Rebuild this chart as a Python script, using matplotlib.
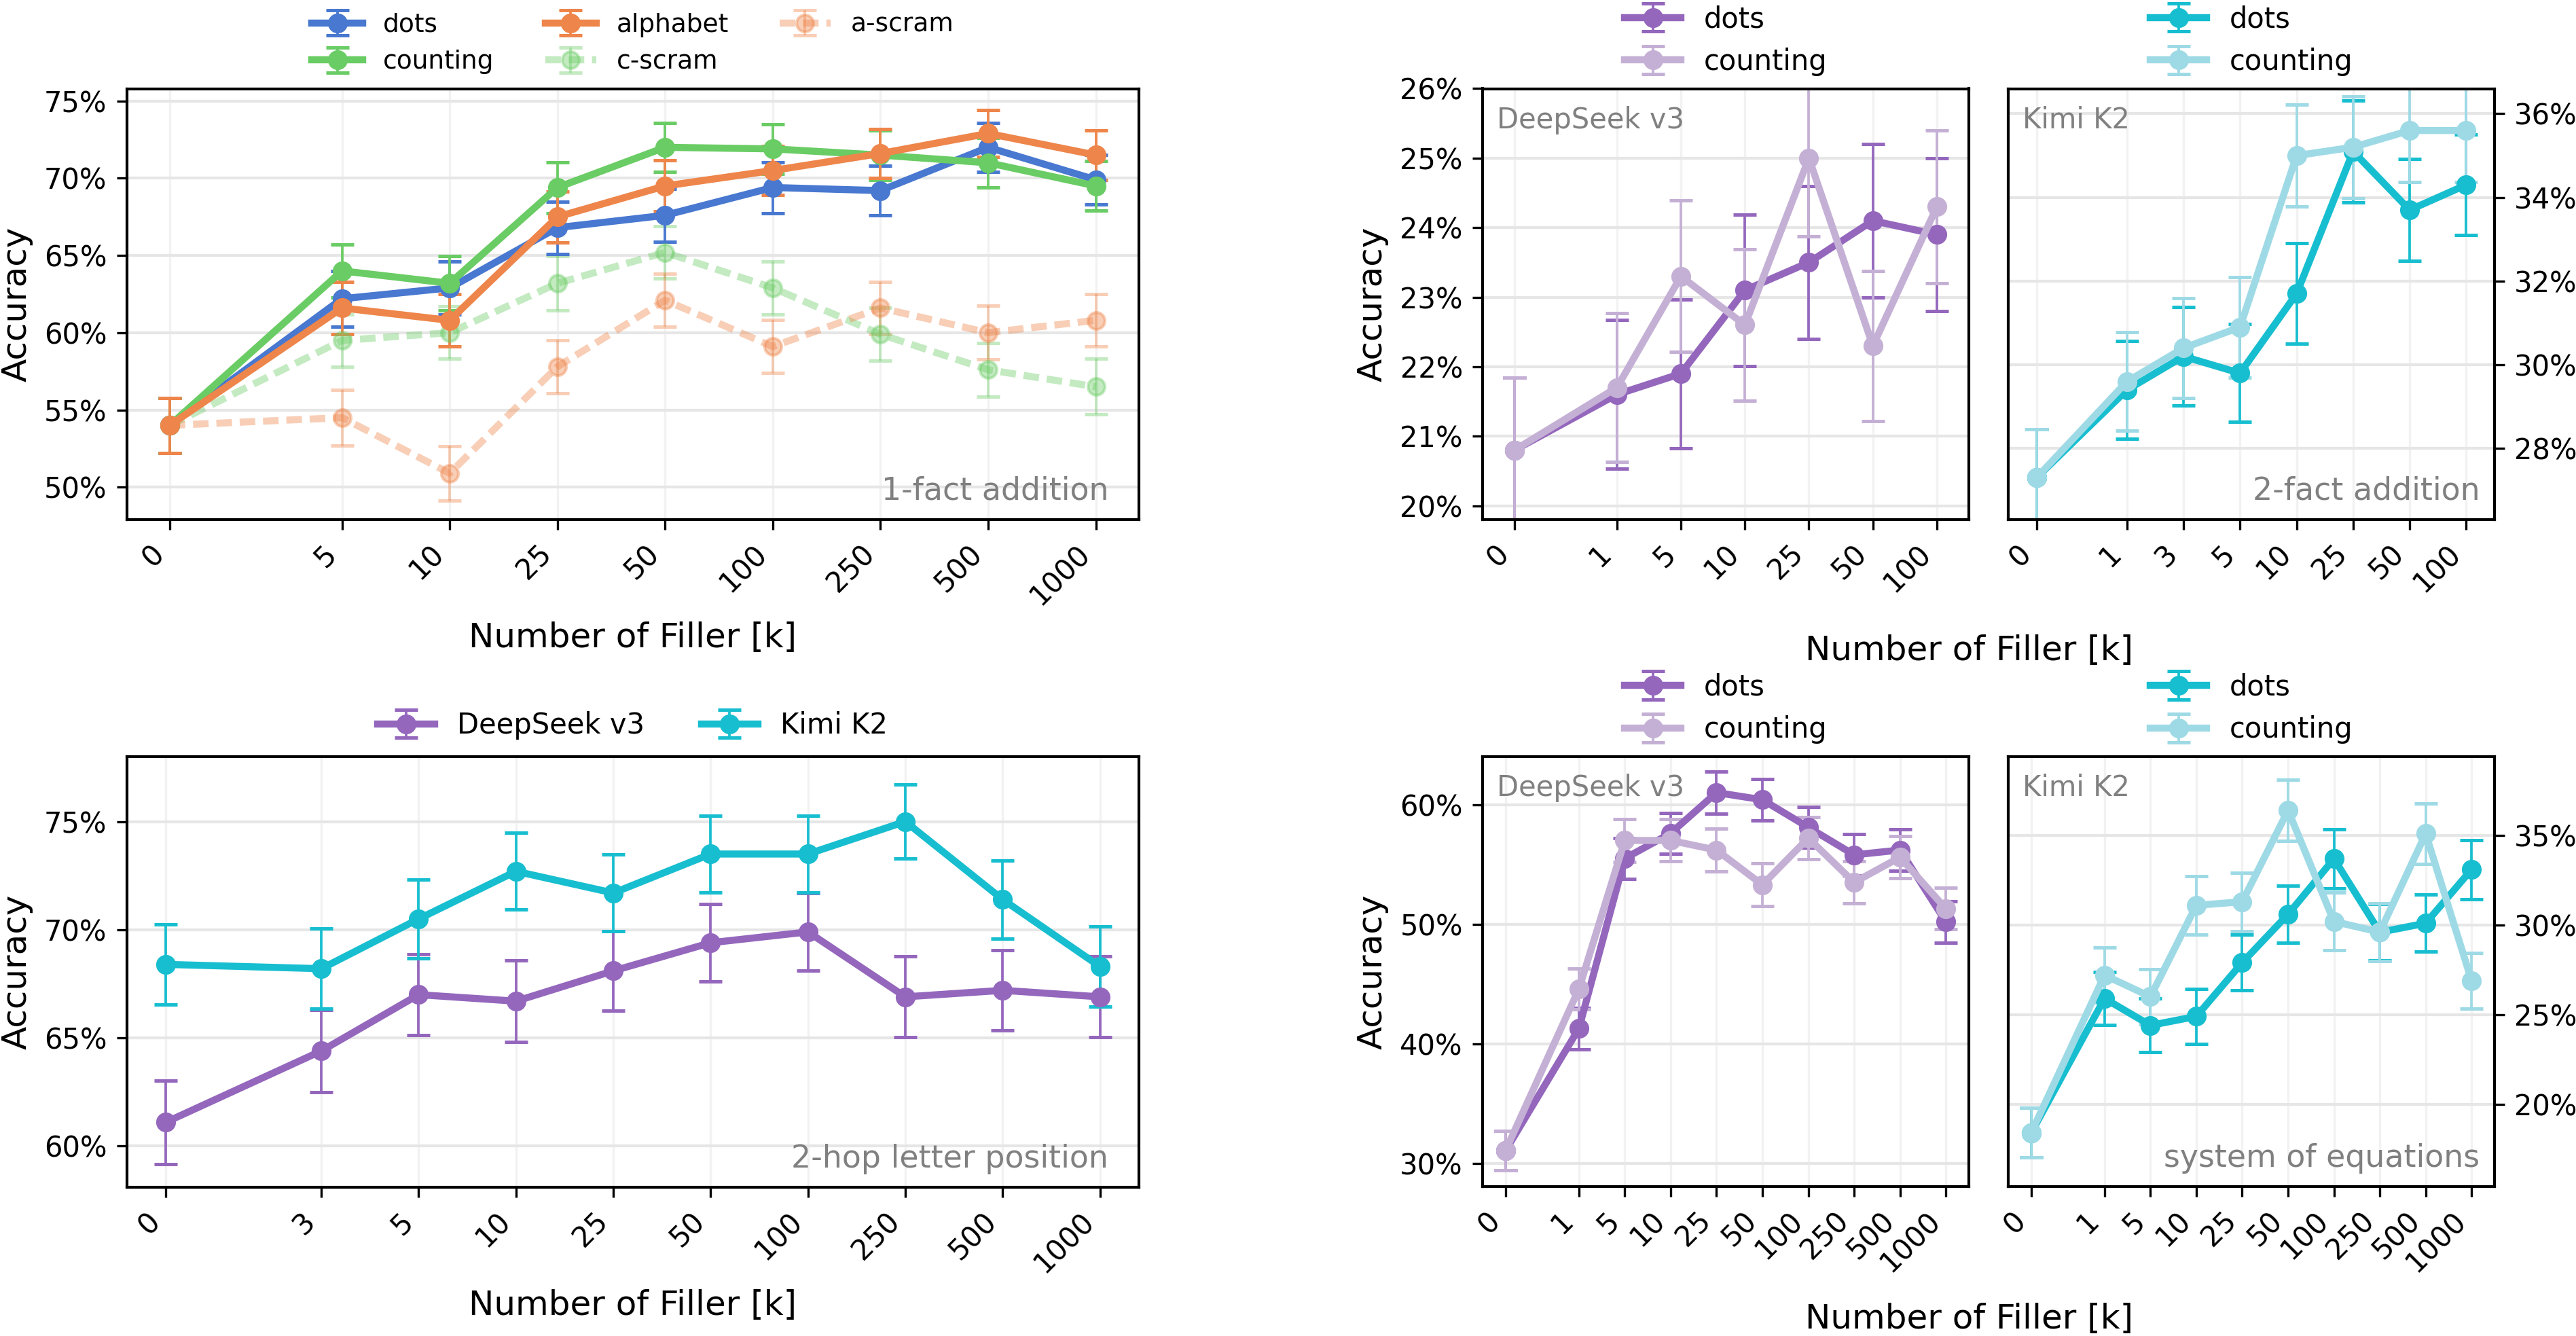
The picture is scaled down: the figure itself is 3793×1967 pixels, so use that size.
import matplotlib.pyplot as plt
import matplotlib.ticker as mticker

# ---- 1-fact addition ----
filler_1f = ['0', '5', '10', '25', '50', '100', '250', '500', '1000']
dots_1f = [54.0, 62.2, 62.9, 66.8, 67.6, 69.4, 69.2, 72.0, 69.9]
dots_1f_err = [1.77, 1.8, 1.7, 1.7, 1.7, 1.65, 1.6, 1.6, 1.6]
counting_1f = [54.0, 64.0, 63.2, 69.4, 72.0, 71.9, 71.5, 71.0, 69.5]
counting_1f_err = [1.77, 1.7, 1.75, 1.65, 1.6, 1.6, 1.6, 1.6, 1.6]
alphabet_1f = [54.0, 61.6, 60.8, 67.5, 69.5, 70.5, 71.6, 72.9, 71.5]
alphabet_1f_err = [1.77, 1.7, 1.7, 1.65, 1.65, 1.6, 1.6, 1.5, 1.6]
cscram_1f = [54.0, 59.5, 60.0, 63.2, 65.2, 62.9, 59.9, 57.6, 56.5]
cscram_1f_err = [1.77, 1.7, 1.7, 1.75, 1.7, 1.7, 1.7, 1.75, 1.8]
ascram_1f = [54.0, 54.5, 50.9, 57.8, 62.1, 59.1, 61.6, 60.0, 60.8]
ascram_1f_err = [1.77, 1.8, 1.77, 1.72, 1.7, 1.72, 1.7, 1.73, 1.7]

# ---- 2-fact addition ----
filler_2f_ds = ['0', '1', '5', '10', '25', '50', '100']
ds_dots_2f = [20.8, 21.6, 21.9, 23.1, 23.5, 24.1, 23.9]
ds_dots_2f_err = [1.04, 1.07, 1.07, 1.09, 1.1, 1.1, 1.1]
ds_count_2f = [20.8, 21.7, 23.3, 22.6, 25.0, 22.3, 24.3]
ds_count_2f_err = [1.04, 1.07, 1.09, 1.09, 1.13, 1.08, 1.1]

filler_2f_kimi = ['0', '1', '3', '5', '10', '25', '50', '100']
kimi_dots_2f = [27.3, 29.4, 30.2, 29.8, 31.7, 35.1, 33.7, 34.3]
kimi_dots_2f_err = [1.16, 1.17, 1.18, 1.17, 1.2, 1.22, 1.22, 1.2]
kimi_count_2f = [27.3, 29.6, 30.4, 30.9, 35.0, 35.2, 35.6, 35.6]
kimi_count_2f_err = [1.16, 1.18, 1.2, 1.2, 1.22, 1.22, 1.23, 1.23]

# ---- 2-hop letter position ----
filler_2h = ['0', '3', '5', '10', '25', '50', '100', '250', '500', '1000']
ds_2h = [61.1, 64.4, 67.0, 66.7, 68.1, 69.4, 69.9, 66.9, 67.2, 66.9]
ds_2h_err = [1.94, 1.9, 1.86, 1.87, 1.84, 1.8, 1.8, 1.86, 1.85, 1.86]
kimi_2h = [68.4, 68.2, 70.5, 72.7, 71.7, 73.5, 73.5, 75.0, 71.4, 68.3]
kimi_2h_err = [1.85, 1.85, 1.83, 1.77, 1.78, 1.77, 1.77, 1.71, 1.8, 1.85]

# ---- system of equations ----
filler_se = ['0', '1', '5', '10', '25', '50', '100', '250', '500', '1000']
ds_dots_se = [31.1, 41.3, 55.5, 57.6, 61.0, 60.4, 58.1, 55.8, 56.2, 50.2]
ds_dots_se_err = [1.65, 1.73, 1.7, 1.7, 1.76, 1.73, 1.7, 1.75, 1.73, 1.74]
ds_count_se = [31.1, 44.6, 57.0, 57.0, 56.2, 53.3, 57.2, 53.5, 55.6, 51.3]
ds_count_se_err = [1.65, 1.7, 1.8, 1.76, 1.77, 1.77, 1.77, 1.75, 1.74, 1.73]
kimi_dots_se = [18.4, 25.9, 24.4, 24.9, 27.9, 30.6, 33.7, 29.6, 30.1, 33.1]
kimi_dots_se_err = [1.38, 1.48, 1.5, 1.52, 1.55, 1.6, 1.65, 1.56, 1.6, 1.65]
kimi_count_se = [18.4, 27.2, 26.0, 31.1, 31.3, 36.4, 30.2, 29.6, 35.1, 26.9]
kimi_count_se_err = [1.38, 1.53, 1.55, 1.62, 1.63, 1.7, 1.62, 1.6, 1.7, 1.55]

BLUE, ORANGE, GREEN = '#4878d0', '#ee854a', '#6acc64'
PURPLE, PURPLE_L = '#9467bd', '#c5b0d5'
CYAN, CYAN_L = '#17becf', '#9edae5'

plt.rcParams['font.family'] = 'DejaVu Sans'
plt.rcParams['font.size'] = 10


def xpos(labels):
    # gap after "0" is wider than between the other categories
    return [0] + [i + 0.6 for i in range(1, len(labels))]


def draw(ax, labels, y, err, color, dashed=False, alpha=1.0, label=None):
    ls = (0, (2.2, 1.1)) if dashed else '-'
    return ax.errorbar(xpos(labels), y, yerr=err, color=color, ls=ls, lw=2.5,
                       marker='o', ms=6, elinewidth=0.9, capsize=4, capthick=1.2,
                       alpha=alpha, label=label)


def style(ax, labels, ylim, yticks, margin, right=False):
    x = xpos(labels)
    ax.set_xticks(x)
    ax.set_xticklabels(labels, rotation=45, ha='right', rotation_mode='default')
    ax.set_xlim(-margin, x[-1] + margin)
    ax.set_ylim(*ylim)
    ax.set_yticks(yticks)
    ax.yaxis.set_major_formatter(mticker.FormatStrFormatter('%d%%'))
    ax.grid(axis='y', color='#e6e6e6', lw=1.0)
    ax.grid(axis='x', color='#f2f2f2', lw=0.8)
    ax.set_axisbelow(True)
    for s in ax.spines.values():
        s.set_linewidth(1.0)
        s.set_color('black')
    if right:
        ax.yaxis.tick_right()


def note(ax, text, where, size):
    if where == 'br':
        ax.text(0.97, 0.03, text, transform=ax.transAxes, ha='right', va='bottom',
                color='gray', fontsize=size)
    else:
        ax.text(0.03, 0.96, text, transform=ax.transAxes, ha='left', va='top',
                color='gray', fontsize=size)


W, H = 3793, 1967
fig = plt.figure(figsize=(W / 300, H / 300), dpi=300)


def box(l, r, t, b):
    return [l / W, 1 - b / H, (r - l) / W, (b - t) / H]


ax1 = fig.add_axes(box(186.5, 1677, 130.5, 765))
ax2a = fig.add_axes(box(2183, 2899, 130.5, 765))
ax2b = fig.add_axes(box(2957, 3673, 130.5, 765))
ax3 = fig.add_axes(box(186.5, 1677, 1114, 1748))
ax4a = fig.add_axes(box(2183, 2899, 1114, 1747))
ax4b = fig.add_axes(box(2957, 3673, 1114, 1747))

# 1-fact addition
hc = draw(ax1, filler_1f, cscram_1f, cscram_1f_err, GREEN, True, 0.4, 'c-scram')
ha = draw(ax1, filler_1f, ascram_1f, ascram_1f_err, ORANGE, True, 0.4, 'a-scram')
hd = draw(ax1, filler_1f, dots_1f, dots_1f_err, BLUE, label='dots')
hg = draw(ax1, filler_1f, counting_1f, counting_1f_err, GREEN, label='counting')
hal = draw(ax1, filler_1f, alphabet_1f, alphabet_1f_err, ORANGE, label='alphabet')
style(ax1, filler_1f, (47.9, 75.8), [50, 55, 60, 65, 70, 75], 0.4)
ax1.set_ylabel('Accuracy', fontsize=12)
ax1.set_xlabel('Number of Filler [k]', fontsize=12)
note(ax1, '1-fact addition', 'br', 11)
ax1.legend([hd, hg, hal, hc, ha], ['dots', 'counting', 'alphabet', 'c-scram', 'a-scram'],
           ncol=3, loc='lower center', bbox_to_anchor=(0.5, 0.98), frameon=False, fontsize=9)

# 2-fact addition
draw(ax2a, filler_2f_ds, ds_dots_2f, ds_dots_2f_err, PURPLE, label='dots')
draw(ax2a, filler_2f_ds, ds_count_2f, ds_count_2f_err, PURPLE_L, label='counting')
style(ax2a, filler_2f_ds, (19.8, 26.0), [20, 21, 22, 23, 24, 25, 26], 0.5)
ax2a.set_ylabel('Accuracy', fontsize=12)
note(ax2a, 'DeepSeek v3', 'tl', 10)
ax2a.legend(loc='lower center', bbox_to_anchor=(0.5, 0.97), frameon=False)

draw(ax2b, filler_2f_kimi, kimi_dots_2f, kimi_dots_2f_err, CYAN, label='dots')
draw(ax2b, filler_2f_kimi, kimi_count_2f, kimi_count_2f_err, CYAN_L, label='counting')
style(ax2b, filler_2f_kimi, (26.3, 36.6), [28, 30, 32, 34, 36], 0.5, right=True)
note(ax2b, 'Kimi K2', 'tl', 10)
note(ax2b, '2-fact addition', 'br', 11)
ax2b.legend(loc='lower center', bbox_to_anchor=(0.5, 0.97), frameon=False)
fig.text(2899 / W, 1 - 958 / H, 'Number of Filler [k]', ha='center', va='center', fontsize=12)

# 2-hop letter position
draw(ax3, filler_2h, ds_2h, ds_2h_err, PURPLE, label='DeepSeek v3')
draw(ax3, filler_2h, kimi_2h, kimi_2h_err, CYAN, label='Kimi K2')
style(ax3, filler_2h, (58.1, 78.0), [60, 65, 70, 75], 0.4)
ax3.set_ylabel('Accuracy', fontsize=12)
ax3.set_xlabel('Number of Filler [k]', fontsize=12)
note(ax3, '2-hop letter position', 'br', 11)
ax3.legend(ncol=2, loc='lower center', bbox_to_anchor=(0.5, 0.98), frameon=False)

# system of equations
draw(ax4a, filler_se, ds_dots_se, ds_dots_se_err, PURPLE, label='dots')
draw(ax4a, filler_se, ds_count_se, ds_count_se_err, PURPLE_L, label='counting')
style(ax4a, filler_se, (28.1, 64.0), [30, 40, 50, 60], 0.5)
ax4a.set_ylabel('Accuracy', fontsize=12)
note(ax4a, 'DeepSeek v3', 'tl', 10)
ax4a.legend(loc='lower center', bbox_to_anchor=(0.5, 0.97), frameon=False)

draw(ax4b, filler_se, kimi_dots_se, kimi_dots_se_err, CYAN, label='dots')
draw(ax4b, filler_se, kimi_count_se, kimi_count_se_err, CYAN_L, label='counting')
style(ax4b, filler_se, (15.4, 39.4), [20, 25, 30, 35], 0.5, right=True)
note(ax4b, 'Kimi K2', 'tl', 10)
note(ax4b, 'system of equations', 'br', 11)
ax4b.legend(loc='lower center', bbox_to_anchor=(0.5, 0.97), frameon=False)
fig.text(2899 / W, 1 - 1942 / H, 'Number of Filler [k]', ha='center', va='center', fontsize=12)

fig.savefig('out.png', dpi=300)
